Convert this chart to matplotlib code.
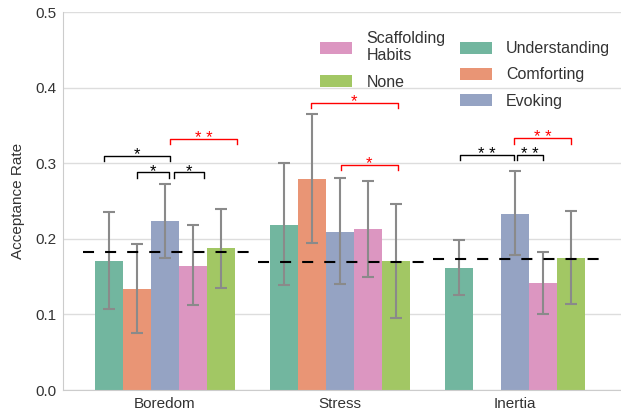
import numpy as np
import matplotlib
matplotlib.use('Agg')
import matplotlib.pyplot as plt
from matplotlib.patches import Patch

plt.rcParams['font.family'] = ['Liberation Sans', 'DejaVu Sans']

### DATA ###
categories = ['Boredom', 'Stress', 'Inertia']
strategies = ['Understanding', 'Comforting', 'Evoking', 'Scaffolding\nHabits', 'None']
colors = ['#72b69f', '#e99575', '#95a3c3', '#dc96c1', '#a2c764']

understanding = [0.171, 0.218, 0.162]
comforting = [0.134, 0.279, np.nan]
evoking = [0.223, 0.209, 0.233]
scaffolding = [0.164, 0.213, 0.142]
none = [0.188, 0.171, 0.174]

#lower / upper ends of the error bars
understanding_ci = [(0.107, 0.235), (0.139, 0.300), (0.126, 0.199)]
comforting_ci = [(0.075, 0.193), (0.195, 0.365), (np.nan, np.nan)]
evoking_ci = [(0.174, 0.273), (0.140, 0.280), (0.178, 0.290)]
scaffolding_ci = [(0.112, 0.218), (0.150, 0.276), (0.101, 0.183)]
none_ci = [(0.135, 0.240), (0.095, 0.246), (0.114, 0.237)]

#dashed reference line per category
baseline = [0.183, 0.169, 0.173]

#significance brackets: x start, x end, height, stars, colour
brackets = [
    (-0.35, 0.03, 0.310, '*', 'black'),
    (-0.16, 0.025, 0.288, '*', 'black'),
    (0.05, 0.22, 0.288, '*', 'black'),
    (0.03, 0.41, 0.332, '**', 'red'),
    (0.834, 1.33, 0.380, '*', 'red'),
    (1.004, 1.33, 0.298, '*', 'red'),
    (1.686, 1.994, 0.311, '**', 'black'),
    (2.011, 2.162, 0.311, '**', 'black'),
    (1.996, 2.32, 0.333, '**', 'red'),
]

### PLOT ###
fig = plt.figure(figsize=(6.21, 4.17), dpi=100)
ax = fig.add_axes([63/621, 1 - 390/417, 1 - 63/621, 378/417])

series = [understanding, comforting, evoking, scaffolding, none]
cis = [understanding_ci, comforting_ci, evoking_ci, scaffolding_ci, none_ci]
width = 0.16
xc = np.arange(len(categories))
handles = []
for i in range(len(series)):
    vals = np.array(series[i], dtype=float)
    ci = np.array(cis[i], dtype=float)
    x = xc + (i - 2) * width
    b = ax.bar(x, np.nan_to_num(vals), width, color=colors[i], label=strategies[i], zorder=2)
    handles.append(b)
    ok = ~np.isnan(vals)
    ax.errorbar(x[ok], vals[ok], yerr=[vals[ok] - ci[ok, 0], ci[ok, 1] - vals[ok]],
                fmt='none', ecolor='#8a8a8a', elinewidth=1.5, capsize=4, capthick=1.5, zorder=3)

for i in range(len(categories)):
    ax.plot([xc[i] - 0.47, xc[i] + 0.52], [baseline[i], baseline[i]], color='black',
            lw=1.5, linestyle=(0, (5.3, 5.3)), zorder=4)

h = 0.007
for x1, x2, y, s, c in brackets:
    ax.plot([x1, x1, x2, x2], [y - h, y, y, y - h], color=c, lw=1, zorder=4)
    ax.text((x1 + x2) / 2, y - 0.005, s.replace('**', '* *'), color=c, ha='center',
            va='baseline', fontsize=12)

ax.set_xlim(-0.583, 2.606)
ax.set_ylim(0, 0.5)
ax.set_yticks([0.0, 0.1, 0.2, 0.3, 0.4, 0.5])
ax.set_xticks(xc)
ax.set_xticklabels(categories)
ax.tick_params(length=0, labelsize=11, colors='#333333', pad=5)
ax.set_ylabel('Acceptance Rate', fontsize=11, color='#333333', labelpad=7)
ax.yaxis.grid(True, color='#dddddd', lw=1)
ax.set_axisbelow(True)
for side in ['top', 'right']:
    ax.spines[side].set_visible(False)
for side in ['left', 'bottom']:
    ax.spines[side].set_color('#cccccc')

dummy = Patch(visible=False, label='')
leg_handles = [handles[3], handles[4], dummy, handles[0], handles[1], handles[2]]
leg_labels = [strategies[3], strategies[4], '', strategies[0], strategies[1], strategies[2]]
leg = fig.legend(leg_handles, leg_labels, ncol=2, frameon=False, loc='upper left',
                 bbox_to_anchor=(320/621, 1 - 31/417), borderpad=0, borderaxespad=0,
                 fontsize=11.5, handlelength=2.0, handleheight=0.8, handletextpad=0.9,
                 columnspacing=0.9, labelspacing=0.7)
for t in leg.get_texts():
    t.set_color('#333333')

plt.savefig('out.png', dpi=100)
